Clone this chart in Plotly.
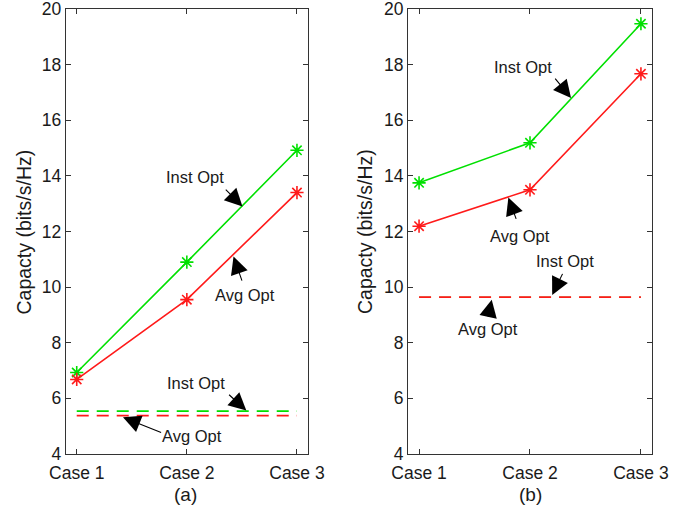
import plotly.graph_objects as go

# Capacity results for the two scenarios
cases = [1, 2, 3]
case_labels = ["Case 1", "Case 2", "Case 3"]

# Panel (a)
a_inst = [6.93, 10.9, 14.92]
a_avg = [6.68, 9.55, 13.4]
a_inst_flat = 5.54
a_avg_flat = 5.38

# Panel (b)
b_inst = [13.75, 15.19, 19.47]
b_avg = [12.19, 13.5, 17.67]
b_inst_flat = 9.64
b_avg_flat = 9.64

GREEN = "#00e000"
RED = "#ff1a1a"
INK = "#1a1a1a"
FONT = "Liberation Sans, Arial, sans-serif"

fig = go.Figure()


def add_panel(xa, ya, inst, avg, inst_flat, avg_flat):
    for vals, col in ((inst, GREEN), (avg, RED)):
        fig.add_trace(go.Scatter(
            x=cases, y=vals, mode="lines+markers",
            line=dict(color=col, width=1.6),
            marker=dict(symbol="asterisk-open", size=11,
                        line=dict(color=col, width=1.6)),
            xaxis=xa, yaxis=ya, showlegend=False, hoverinfo="skip"))
    # when both flat levels coincide, the green one sits hidden under the red
    same = abs(inst_flat - avg_flat) < 1e-9
    for val, col, w in ((inst_flat, GREEN, 0.8 if same else 1.6), (avg_flat, RED, 1.8 if same else 1.6)):
        fig.add_trace(go.Scatter(
            x=[cases[0], cases[-1]], y=[val, val], mode="lines",
            line=dict(color=col, width=w, dash="12px,8px"),
            xaxis=xa, yaxis=ya, showlegend=False, hoverinfo="skip"))


add_panel("x", "y", a_inst, a_avg, a_inst_flat, a_avg_flat)
add_panel("x2", "y2", b_inst, b_avg, b_inst_flat, b_avg_flat)

axis_common = dict(
    showline=True, linecolor="#333333", linewidth=1,
    mirror="allticks", ticks="inside", ticklen=5, tickcolor="#333333",
    showgrid=False, zeroline=False, automargin=False,
    ticklabeloverflow="allow",
    tickfont=dict(family=FONT, size=17.5, color=INK),
)

xcommon = dict(axis_common, range=[0.9, 3.1], tickmode="array",
               tickvals=cases, ticktext=case_labels, ticklabelstandoff=3)
ycommon = dict(axis_common, range=[4, 20], dtick=2)

fig.update_layout(
    width=691, height=512,
    margin=dict(l=0, r=0, t=0, b=0, autoexpand=False),
    plot_bgcolor="white", paper_bgcolor="white",
    xaxis=dict(xcommon, domain=[0.0951, 0.4457], anchor="y"),
    yaxis=dict(ycommon, domain=[0.1133, 0.9824], anchor="x"),
    xaxis2=dict(xcommon, domain=[0.5904, 0.9436], anchor="y2"),
    yaxis2=dict(ycommon, domain=[0.1133, 0.9824], anchor="x2"),
)

# Callout arrows: (text, text_x, text_y, tail_x, tail_y, head_x, head_y)
callouts_a = [
    ("Inst Opt", 2.07, 13.95, 2.34, 13.56, 2.505, 12.9),
    ("Avg Opt", 2.53, 9.70, 2.505, 10.18, 2.424, 11.1),
    ("Inst Opt", 2.086, 6.55, 2.37, 6.18, 2.54, 5.56),
    ("Avg Opt", 2.046, 4.64, 1.78, 4.75, 1.42, 5.32),
]
callouts_b = [
    ("Inst Opt", 1.934, 17.9, 2.216, 17.55, 2.37, 16.8),
    ("Avg Opt", 1.91, 11.85, 1.88, 12.4, 1.805, 13.22),
    ("Inst Opt", 2.315, 10.93, 2.3, 10.53, 2.2, 9.72),
    ("Avg Opt", 1.624, 8.5, 1.62, 8.88, 1.655, 9.55),
]

for xa, ya, items in (("x", "y", callouts_a), ("x2", "y2", callouts_b)):
    for text, tx, ty, sx, sy, hx, hy in items:
        fig.add_annotation(
            x=hx, y=hy, ax=sx, ay=sy, xref=xa, yref=ya, axref=xa, ayref=ya,
            text="", showarrow=True, arrowhead=2, arrowsize=3.2,
            arrowwidth=1.1, arrowcolor="black")
        fig.add_annotation(
            x=tx, y=ty, xref=xa, yref=ya, text=text, showarrow=False,
            xanchor="center", yanchor="middle",
            font=dict(family=FONT, size=16.5, color=INK))

# Axis titles and panel labels
for px, lbl in ((23.5 / 691, "Capacty (bits/s/Hz)"), (365 / 691, "Capacty (bits/s/Hz)")):
    fig.add_annotation(
        x=px, y=1 - 232 / 512, xref="paper", yref="paper", text=lbl,
        textangle=-90, showarrow=False, xanchor="center", yanchor="middle",
        font=dict(family=FONT, size=19.5, color=INK))

for px, lbl in ((186 / 691, "(a)"), (530 / 691, "(b)")):
    fig.add_annotation(
        x=px, y=1 - 494 / 512, xref="paper", yref="paper", text=lbl,
        showarrow=False, xanchor="center", yanchor="middle",
        font=dict(family=FONT, size=19, color=INK))

fig.write_html("out.html")
